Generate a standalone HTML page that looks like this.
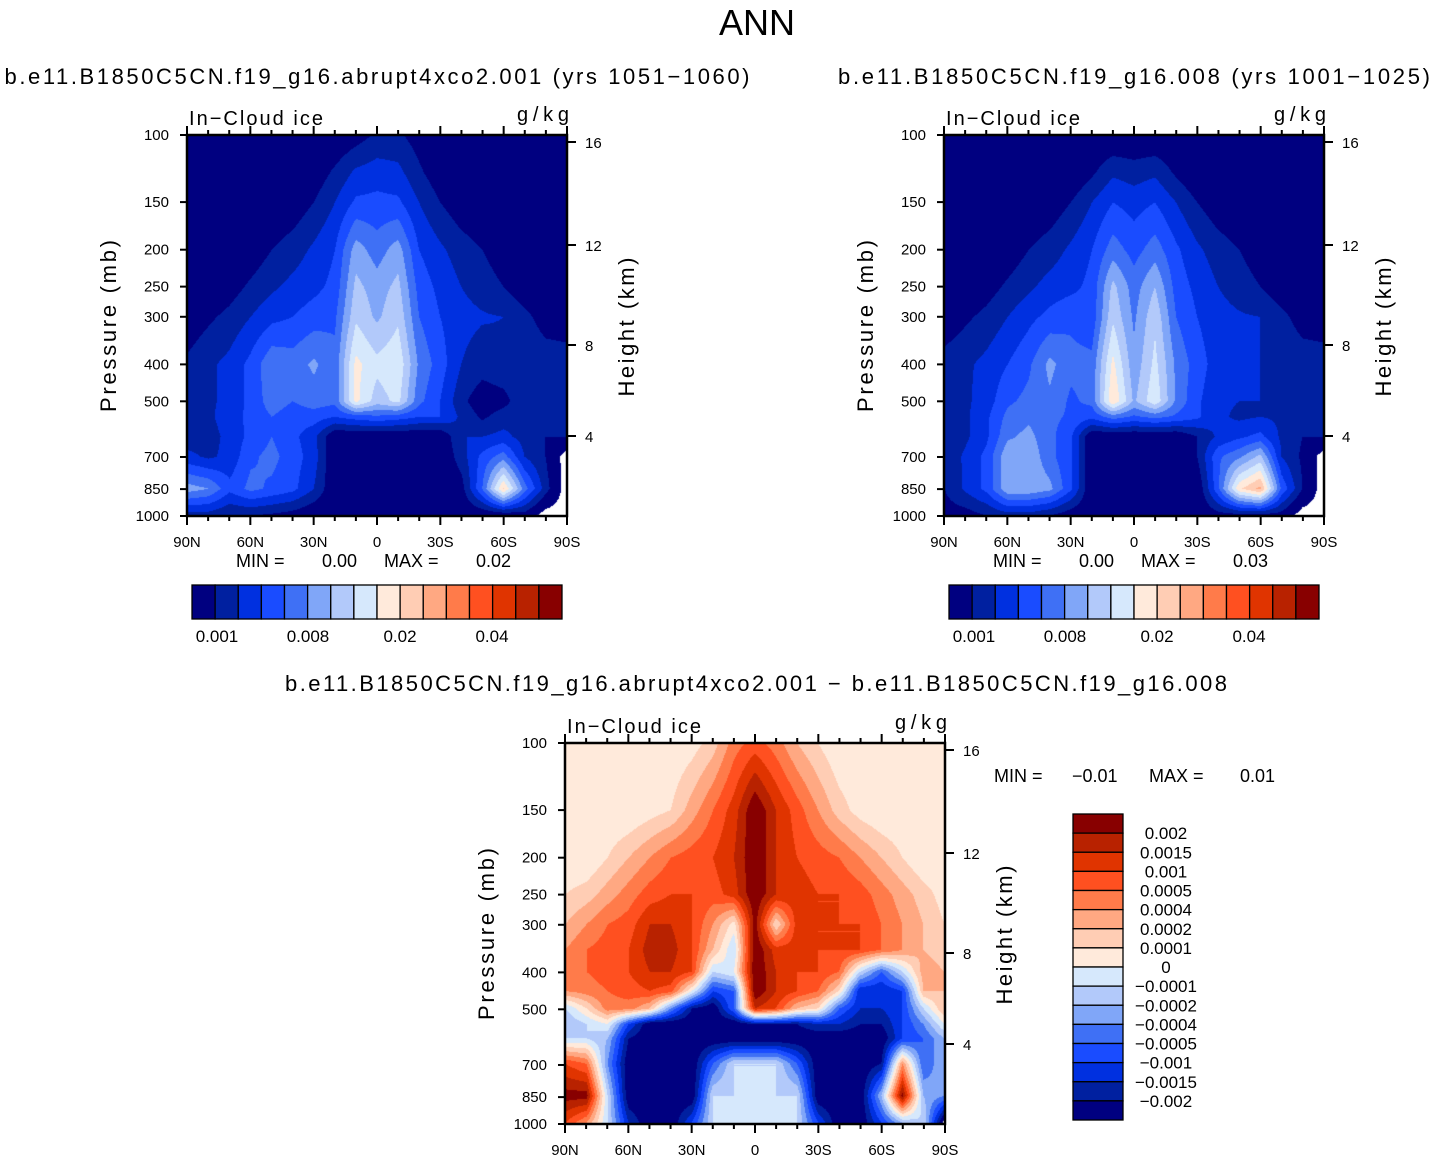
<!DOCTYPE html>
<html><head><meta charset="utf-8">
<style>
body{margin:0;background:#fff;width:1434px;height:1161px;overflow:hidden;position:relative;font-family:"Liberation Sans",sans-serif;}
svg{position:absolute;left:0;top:0;}
canvas{position:absolute;}
</style></head>
<body>
<canvas id="c1" width="380" height="381" style="left:187px;top:135px"></canvas>
<canvas id="c2" width="380" height="381" style="left:944px;top:135px"></canvas>
<canvas id="c3" width="380" height="380" style="left:565px;top:743px"></canvas>
<svg id="ov" width="1434" height="1161"></svg>
<script>
const palette=['#000080','#0020a0','#0030e0','#1a4cff','#3f70f5','#80a6f8','#b2c9fa','#d6e8fc','#ffeadb','#ffcdb4','#ffa882','#ff7b4a','#ff5020','#e03400','#b82200','#880000'];
const lats=[90,80,70,60,50,40,30,20,10,0,-10,-20,-30,-40,-50,-60,-70,-80,-90];
const latLabels=['90N','60N','30N','0','30S','60S','90S'];
const presTicks=[100,150,200,250,300,400,500,700,850,1000];
const heightTicks=[16,12,8,4];
const heightPos=[7,110,210,301];
const topLevels=['0.001','0.008','0.02','0.04'];
const diffLevels=['0.002','0.0015','0.001','0.0005','0.0004','0.0002','0.0001','0','\u22120.0001','\u22120.0002','\u22120.0004','\u22120.0005','\u22120.001','\u22120.0015','\u22120.002'];
const p1Levels=[100,125,150,200,250,300,400,500,550,620,700,850,1000];
const p1=[
[0,0,0,0,0,0,0,0,0.5,1.2,1.2,0.5,0,0,0,0,0,0,0],
[0,0,0,0,0,0,0.3,1.2,2.2,2.5,2.3,1.2,0.3,0,0,0,0,0,0],
[0,0,0,0,0,0.3,1,2,3.2,3.3,3.2,2,1,0.3,0,0,0,0,0],
[0,0,0,0.3,1,1.5,2.2,3,5.5,4.5,5.5,3,2.2,1.5,1,0.3,0,0,0],
[0,0,0.5,1.2,1.8,2.3,2.7,3.3,6.3,5.5,6.3,3.6,2.7,2,1.6,1,0.3,0,0],
[0.3,0.8,1.3,2,2.7,3,3.5,3.8,6.8,5.8,6.8,4,3,2.3,2.1,2,1.3,0.5,0.3],
[1.2,1.8,2.3,3.3,4.8,4.5,5.2,4.3,8.3,7.3,7.8,4.8,3.5,2,1.5,1.8,2,1.6,1.6],
[1.4,1.8,2.3,3.3,4.5,4,4.5,4.3,8.3,6.5,7.3,4.3,3,1.3,0.3,0.6,1.8,1.8,1.8],
[1.4,1.8,2.5,3.3,4,3.5,3.5,3,3.5,3.8,3.5,3,3,1.8,0.8,1.5,1.8,1.6,1.6],
[1.4,1.6,2.3,3.3,4,3.3,2.3,0,0,0,0,0,0,2,2,2.3,1.6,1,1],
[2.3,1.8,2.3,3.8,4.3,3.5,2.5,0,0,0,0,0,0,1.5,3.3,4.5,2,1,-1],
[5.5,5,3.3,4.3,3.8,3.3,2,0,0,0,0,0,0,0.5,4,9.2,4.5,1.5,-1],
[1.5,1.5,1,1,0.8,0.5,0,0,0,0,0,0,0,0,0,0,0.5,-1,-1]];
const p2=[
[0,0,0,0,0,0,0,0,0,0,0,0,0,0,0,0,0,0,0],
[0,0,0,0,0,0,0,0.8,1.8,1.5,1.8,0.8,0,0,0,0,0,0,0],
[0,0,0,0,0,0.3,1,2,3,2.6,3,2,1,0.3,0,0,0,0,0],
[0,0,0,0.3,1,1.5,2.2,3,4.5,3.6,4.5,3.2,2.2,1.5,1,0.3,0,0,0],
[0,0,0.5,1.2,1.8,2.4,2.7,3.3,6.3,4.5,6,3.6,2.7,2,1.6,1,0.3,0,0],
[0.3,0.8,1.3,2,2.7,3.3,3.8,3.3,6.8,4.8,6.8,4,3,2.3,2.1,2,1.3,0.5,0.3],
[1.4,1.8,2.3,3,3.8,5.3,4.3,4.3,8.3,5.3,7.3,4.8,3.5,2.5,2.2,2,2,1.6,1.6],
[1.6,1.8,2.5,3.8,4.3,4.8,3.8,4.3,9,5.8,7.8,4.8,3.2,2.2,2,2,1.8,1,1.8],
[1.6,1.8,2.8,4.3,4.8,4.3,3.8,3.3,4.5,3.8,4.3,3.8,3.2,2.2,1.8,2,1.8,1.6,1.6],
[1.4,1.8,2.8,4.8,5.3,4.3,3.2,0,0,0,0,0,1,2.2,2.8,3.3,1.8,1,1],
[1.2,2.2,3.3,5.8,5.8,4.3,3.2,0,0,0,0,0,1,3.8,4.8,6.3,2,0.8,-1],
[1,2.2,3.3,5.8,5.8,5.3,3.2,0,0,0,0,0,0,3.8,8.8,10.3,3.8,1,-1],
[0.5,0.5,1,1.5,1.5,1,0.3,0,0,0,0,0,0,0.5,0.5,0.5,0.5,-1,-1]];
const p3Levels=[100,150,200,250,300,350,400,450,500,550,600,700,850,1000];
const p3=[
[8,8,8,8,8,8,8.5,9.5,11.5,12.5,11.5,10,9,8,8,8,8,8,8],
[8,8,8,8,8.5,9,10.5,12,13.5,16,14,12.5,11,9.5,8.5,8,8,8,8],
[8,8,9,10,11,12,12.5,13,14,16,14,13,12.5,12,11,10,9,8,8],
[9,9.5,10.5,11.5,12.5,13,13,12.5,13.5,16,14,13.5,13,13,12.5,11.5,10.5,9.5,8.5],
[10,11,12,12.5,14,14,13,11,8.5,15.5,9,13.5,13,13,13,12,11,10,9],
[11,12,12.5,13,14.5,14.5,13,10,7,16,13.5,13.5,13,13,13,12,11,10,9.5],
[11.5,12,12.5,13,14,14,13,7,8,16,14,13,13,12,7,4,7,10.5,10],
[11,11.5,12,12.5,13,12.5,8,3,4,16,14,13,12,9,2,2,3,10,10],
[7,9,11.5,11.5,10,5,1,0,4,14,13,10,9,4,2,2,3,7,10],
[6,7,8,3,0,0,0,0,0,1,1,1,2,2,1,1,3,5,8],
[7,7,6,1,0,0,0,0,0,0,0,0,0,0,0,0,3,4,6],
[13,12,5,0,0,0,0,4,7,7,7,4,0,0,0,1,11,4,6],
[15.5,15.5,7,0,0,0,0,7,7,7,7,7,0,0,0,6,15.5,6,5],
[13,11,7,2,0,0,3,7,7,7,7,7,3,0,0,3,6,7,-1]];

function fill(id,grid,levels){
  const cv=document.getElementById(id),ctx=cv.getContext('2d');
  const W=cv.width,H=cv.height,img=ctx.createImageData(W,H);
  const lp=levels.map(p=>Math.log10(p));
  const rgb=palette.map(h=>[parseInt(h.substr(1,2),16),parseInt(h.substr(3,2),16),parseInt(h.substr(5,2),16)]);
  for(let y=0;y<H;y++){
    const L=2+y/(H-1);
    let r=0;while(r<lp.length-2&&lp[r+1]<L)r++;
    const fy=Math.max(0,Math.min(1,(L-lp[r])/(lp[r+1]-lp[r])));
    for(let x=0;x<W;x++){
      const cf=x/(W-1)*(lats.length-1);
      const c=Math.min(lats.length-2,Math.floor(cf)),fx=cf-c;
      const v=(grid[r][c]*(1-fx)+grid[r][c+1]*fx)*(1-fy)+(grid[r+1][c]*(1-fx)+grid[r+1][c+1]*fx)*fy;
      const i=(y*W+x)*4;
      let col;
      if(v<-0.4)col=[255,255,255];else col=rgb[Math.max(0,Math.min(15,Math.floor(v)))];
      img.data[i]=col[0];img.data[i+1]=col[1];img.data[i+2]=col[2];img.data[i+3]=255;
    }
  }
  ctx.putImageData(img,0,0);
}
fill('c1',p1,p1Levels);fill('c2',p2,p1Levels);fill('c3',p3,p3Levels);

const ov=document.getElementById('ov');const NS='http://www.w3.org/2000/svg';
function el(tag,attrs,text){const e=document.createElementNS(NS,tag);for(const k in attrs)e.setAttribute(k,attrs[k]);if(text!==undefined)e.textContent=text;ov.appendChild(e);return e;}
function txt(x,y,s,size,anchor,name,extra){const e=el('text',Object.assign({x:x,y:y,'font-size':size,'text-anchor':anchor||'start','font-family':'Liberation Sans, sans-serif',fill:'#000'},extra||{}),s);return e;}

function axes(x0,y0,pref){
  const W=380,H=381;
  const f=el('rect',{x:x0,y:y0,width:W,height:H,fill:'none',stroke:'#000','stroke-width':2.5});
  
  for(let i=0;i<=18;i++){
    const x=x0+i*W/18,maj=i%3===0,len=maj?9:5;
    el('line',{x1:x,x2:x,y1:y0+H,y2:y0+H+len,stroke:'#000','stroke-width':2});
    el('line',{x1:x,x2:x,y1:y0,y2:y0-len,stroke:'#000','stroke-width':2});
    if(maj)txt(x,y0+H+31,latLabels[i/3],15,'middle',pref+'-x-tick-label');
  }
  presTicks.forEach(p=>{const y=y0+H*Math.log10(p/100);
    el('line',{x1:x0,x2:x0-7,y1:y,y2:y,stroke:'#000','stroke-width':2});
    txt(x0-18,y+5,String(p),15,'end',pref+'-pressure-tick-label');});
  heightTicks.forEach((h,i)=>{const y=y0+heightPos[i];
    el('line',{x1:x0+W,x2:x0+W+9,y1:y,y2:y,stroke:'#000','stroke-width':2});
    txt(x0+W+18,y+6,String(h),15,'start',pref+'-height-tick-label');});
  txt(x0+2,y0-10,'In\u2212Cloud  ice',20,'start',pref+'-variable-label',{textLength:134});
  txt(x0+W+2,y0-14,'g/kg',20,'end',pref+'-units-label',{textLength:52});
  txt(0,0,'Pressure  (mb)',22,'middle',pref+'-y-axis-title',{transform:`translate(${x0-71},${y0+191}) rotate(-90)`,textLength:172});
  txt(0,0,'Height  (km)',22,'middle',pref+'-y2-axis-title',{transform:`translate(${x0+W+67},${y0+192}) rotate(-90)`,textLength:139});
}
txt(757,35,'ANN',36,'middle','figure-title');
txt(377,84,'b.e11.B1850C5CN.f19_g16.abrupt4xco2.001  (yrs  1051\u22121060)',22,'middle','plot1-title',{textLength:745});
txt(1134,84,'b.e11.B1850C5CN.f19_g16.008  (yrs  1001\u22121025)',22,'middle','plot2-title',{textLength:592});
txt(756,691,'b.e11.B1850C5CN.f19_g16.abrupt4xco2.001  \u2212  b.e11.B1850C5CN.f19_g16.008',22,'middle','diff-title',{textLength:942});
axes(187,135,'plot1');axes(944,135,'plot2');axes(565,743,'diff');
function minmax(x,y,mn,mx,name){
  txt(x,y,'MIN  =',18,'start',name+'-min-label');txt(x+86,y,mn,18,'start',name+'-min-value');
  txt(x+148,y,'MAX  =',18,'start',name+'-max-label');txt(x+240,y,mx,18,'start',name+'-max-value');
}
minmax(236,567,'0.00','0.02','plot1');minmax(993,567,'0.00','0.03','plot2');
txt(994,782,'MIN  =',18,'start','diff-min-label');txt(1072,782,'\u22120.01',18,'start','diff-min-value');
txt(1149,782,'MAX  =',18,'start','diff-max-label');txt(1240,782,'0.01',18,'start','diff-max-value');
function hbar(x0,name){
  const w=370/16;
  palette.forEach((c,i)=>{const r=el('rect',{x:x0+i*w,y:585,width:w,height:34,fill:c,stroke:'#000','stroke-width':1.3});
    });
  const lx=[25,116,208,300];
  topLevels.forEach((s,i)=>txt(x0+lx[i],642,s,17,'middle',name+'-label'));
}
hbar(192,'plot1-colorbar');hbar(949,'plot2-colorbar');
const bh=306/16;
palette.slice().reverse().forEach((c,i)=>{const r=el('rect',{x:1073,y:814+i*bh,width:50,height:bh,fill:c,stroke:'#000','stroke-width':1.3});
  });
diffLevels.forEach((s,i)=>txt(1166,814+(i+1)*bh+6,s,17,'middle','diff-colorbar-label'));
</script>
</body></html>
